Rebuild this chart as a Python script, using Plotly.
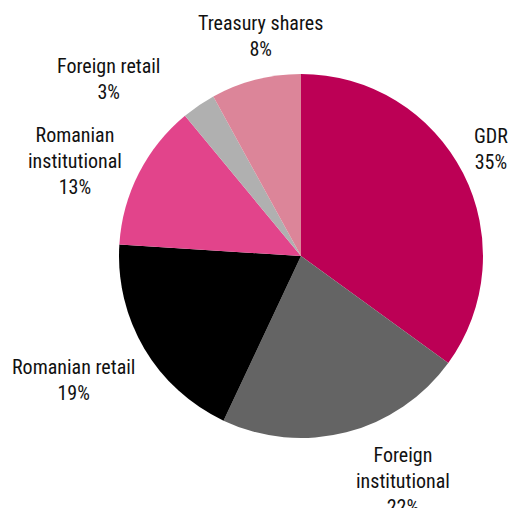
import plotly.graph_objects as go

# Shareholder structure
labels = ["GDR", "Foreign<br>institutional", "Romanian retail", "Romanian<br>institutional",
          "Foreign retail", "Treasury shares"]
values = [35, 22, 19, 13, 3, 8]
colors = ["#BC0055", "#646464", "#000000", "#E2448B", "#B0B0B0", "#DC8599"]

W, H = 519, 508
FONT = dict(family="Roboto Condensed, Liberation Sans Narrow, Arial Narrow, sans-serif",
            size=20, weight=400, color="#111111")

# label block centres in pixels (from top-left), one per slice
label_pos = [(491, 149), (403, 481), (73, 380), (75, 161), (108, 79), (260, 36)]

fig = go.Figure(go.Pie(
    labels=labels,
    values=values,
    sort=False,
    direction="clockwise",
    rotation=0,
    marker=dict(colors=colors, line=dict(width=0)),
    textinfo="none",
    domain=dict(x=[119 / W, 483 / W], y=[1 - 438 / H, 1 - 74 / H]),
    showlegend=False,
    hoverinfo="label+percent",
))

total = sum(values)
for lab, val, (px, py) in zip(labels, values, label_pos):
    fig.add_annotation(
        x=px / W, y=1 - py / H, xref="paper", yref="paper",
        xanchor="center", yanchor="middle", align="center",
        text=f"{lab}<br>{round(100 * val / total)}%",
        showarrow=False, font=FONT,
    )

fig.update_layout(
    width=W, height=H,
    margin=dict(l=0, r=0, t=0, b=0),
    paper_bgcolor="white",
    plot_bgcolor="white",
)

fig.write_html("out.html")
